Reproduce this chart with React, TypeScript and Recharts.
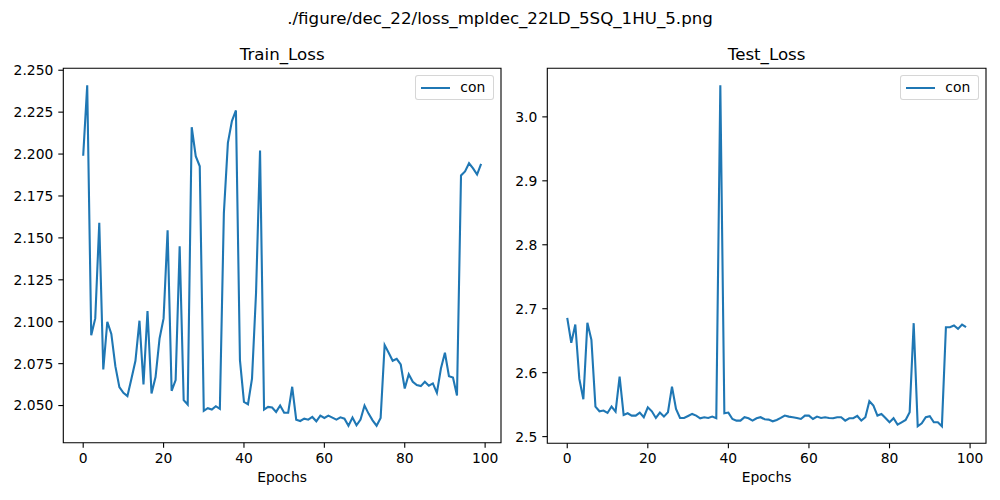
import { LineChart, Line, XAxis, YAxis, ReferenceArea, Legend } from "recharts";

// values, one per epoch (0..99)
const TRAIN_LOSS = [
  2.199, 2.241, 2.092, 2.102, 2.159, 2.0715, 2.1, 2.0927, 2.0735, 2.061,
  2.0576, 2.0556, 2.066, 2.0767, 2.1006, 2.0626, 2.1064, 2.0572, 2.067, 2.09,
  2.102, 2.1545, 2.0588, 2.0652, 2.145, 2.0532, 2.0506, 2.216, 2.1987, 2.1927,
  2.0468, 2.0484, 2.0476, 2.0496, 2.048, 2.1648, 2.2067, 2.2197, 2.226, 2.0771,
  2.0522, 2.0508, 2.066, 2.117, 2.2021, 2.0476, 2.0492, 2.0488, 2.0462, 2.05,
  2.0457, 2.0457, 2.0612, 2.0416, 2.0408, 2.0422, 2.0416, 2.0432, 2.0406, 2.044,
  2.0426, 2.044, 2.0428, 2.0416, 2.043, 2.0422, 2.038, 2.0428, 2.0382, 2.0416,
  2.05, 2.0452, 2.0412, 2.038, 2.0426, 2.0861, 2.0815, 2.0767, 2.0779, 2.0745,
  2.0602, 2.0687, 2.0642, 2.0622, 2.0616, 2.0642, 2.0618, 2.0632, 2.0576, 2.0721,
  2.0815, 2.0675, 2.0667, 2.056, 2.1872, 2.1896, 2.1945, 2.1915, 2.1878, 2.1941,
];

const TEST_LOSS = [
  2.6857, 2.6466, 2.6753, 2.5902, 2.5584, 2.6779, 2.6513, 2.547, 2.5396, 2.5407,
  2.537, 2.547, 2.5391, 2.5939, 2.5339, 2.5365, 2.5329, 2.5329, 2.5376, 2.5303,
  2.5459, 2.5396, 2.5292, 2.5376, 2.5313, 2.5381, 2.5782, 2.5433, 2.5292, 2.5292,
  2.5323, 2.5355, 2.5329, 2.5287, 2.5303, 2.5292, 2.5313, 2.5287, 3.0493, 2.5365,
  2.5376, 2.5276, 2.525, 2.525, 2.5303, 2.5287, 2.525, 2.5287, 2.5303, 2.5271,
  2.5266, 2.524, 2.5261, 2.5292, 2.5329, 2.5313, 2.5303, 2.5292, 2.5276, 2.5329,
  2.5329, 2.5276, 2.5313, 2.5292, 2.5303, 2.5292, 2.5287, 2.5303, 2.5303, 2.525,
  2.5287, 2.5287, 2.5323, 2.525, 2.5303, 2.5553, 2.5485, 2.5329, 2.5355, 2.5292,
  2.5224, 2.5287, 2.5188, 2.5224, 2.5261, 2.5381, 2.6774, 2.5162, 2.5209, 2.5303,
  2.5318, 2.5224, 2.5224, 2.5162, 2.6711, 2.6711, 2.6737, 2.6685, 2.6753, 2.6711,
];

const X_TICKS = [0, 20, 40, 60, 80, 100];
const TRAIN_Y_TICKS = [2.05, 2.075, 2.1, 2.125, 2.15, 2.175, 2.2, 2.225, 2.25];
const TEST_Y_TICKS = [2.5, 2.6, 2.7, 2.8, 2.9, 3.0];

const SUPTITLE = "./figure/dec_22/loss_mpldec_22LD_5SQ_1HU_5.png";
const SERIES_NAME = "con";

const BLUE = "#1f77b4";
const FONT = "DejaVu Sans";
const SMALL = 13.89;
const BIG = 16.67;

// matplotlib-style 5% margins around the data
const padded = (vals: number[]): [number, number] => {
  const lo = Math.min(...vals);
  const hi = Math.max(...vals);
  const m = (hi - lo) * 0.05;
  return [lo - m, hi + m];
};

const LegendBox = () => (
  <div
    style={{
      position: "relative",
      width: 79,
      height: 25.3,
      boxSizing: "border-box",
      border: "1px solid rgba(204,204,204,0.8)",
      borderRadius: 3,
      background: "rgba(255,255,255,0.8)",
      fontFamily: FONT,
      fontSize: SMALL,
    }}
  >
    <div style={{ position: "absolute", left: 5, top: 10.5, width: 29, height: 2.1, background: BLUE }} />
    <span style={{ position: "absolute", left: 44, top: 2, lineHeight: "19px", color: "#000" }}>{SERIES_NAME}</span>
  </div>
);

type PanelProps = {
  title: string;
  values: number[];
  yTicks: number[];
  yDigits: number;
  left: number;
  width: number;
  yAxisWidth: number;
  marginRight: number;
  marginBottom: number;
  legendLeft: number;
};

const Panel = ({ title, values, yTicks, yDigits, left, width, yAxisWidth, marginRight, marginBottom, legendLeft }: PanelProps) => {
  const data = values.map((v, i) => ({ epoch: i, loss: v }));
  const xDom = padded([0, values.length - 1]);
  const yDom = padded(values);
  const tickStyle = { fontSize: SMALL, fontFamily: FONT, fill: "#000" };
  return (
    <div style={{ position: "absolute", left, top: 0 }}>
      <LineChart
        width={width}
        height={500}
        data={data}
        margin={{ top: 68.3, right: marginRight, bottom: marginBottom, left: 0 }}
      >
        <XAxis
          dataKey="epoch"
          type="number"
          domain={xDom}
          ticks={X_TICKS}
          interval={0}
          allowDataOverflow
          height={45}
          axisLine={false}
          tickLine={{ stroke: "#000", strokeWidth: 1.1 }}
          tickSize={5}
          tickMargin={5}
          tick={tickStyle}
          label={{ value: "Epochs", position: "insideBottom", offset: 6, fontSize: SMALL, fontFamily: FONT, fill: "#000" }}
        />
        <YAxis
          type="number"
          domain={yDom}
          ticks={yTicks}
          interval={0}
          allowDataOverflow
          width={yAxisWidth}
          axisLine={false}
          tickLine={{ stroke: "#000", strokeWidth: 1.1 }}
          tickSize={5}
          tickMargin={5}
          tick={tickStyle}
          tickFormatter={(v: number) => v.toFixed(yDigits)}
        />
        <Line
          type="linear"
          dataKey="loss"
          name={SERIES_NAME}
          stroke={BLUE}
          strokeWidth={2.1}
          dot={false}
          isAnimationActive={false}
        />
        <ReferenceArea
          x1={xDom[0]}
          x2={xDom[1]}
          y1={yDom[0]}
          y2={yDom[1]}
          fill="none"
          stroke="#000"
          strokeWidth={1.1}
          ifOverflow="visible"
          label={{ value: title, position: "top", offset: 8.3, fontSize: BIG, fontFamily: FONT, fill: "#000" }}
        />
        <Legend
          layout="horizontal"
          verticalAlign="middle"
          align="center"
          content={() => <LegendBox />}
          wrapperStyle={{ left: legendLeft, top: 75, width: 79, height: 25.3 }}
        />
      </LineChart>
    </div>
  );
};

export default function App() {
  return (
    <div style={{ position: "absolute", left: 0, top: 0, width: 1000, height: 500, background: "#fff" }}>
      <svg width={1000} height={40} style={{ position: "absolute", left: 0, top: 0 }}>
        <text x={500} y={24} textAnchor="middle" fontFamily={FONT} fontSize={BIG} fill="#000">
          {SUPTITLE}
        </text>
      </svg>
      <Panel
        title="Train_Loss"
        values={TRAIN_LOSS}
        yTicks={TRAIN_Y_TICKS}
        yDigits={3}
        left={0}
        width={510}
        yAxisWidth={63.3}
        marginRight={9}
        marginBottom={12.3}
        legendLeft={415.3}
      />
      <Panel
        title="Test_Loss"
        values={TEST_LOSS}
        yTicks={TEST_Y_TICKS}
        yDigits={1}
        left={500}
        width={500}
        yAxisWidth={47.3}
        marginRight={14}
        marginBottom={11.7}
        legendLeft={400.3}
      />
    </div>
  );
}
